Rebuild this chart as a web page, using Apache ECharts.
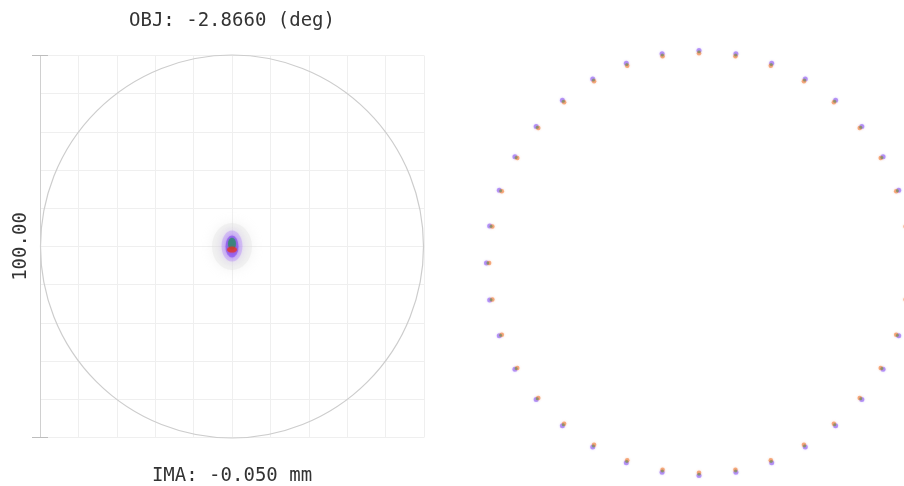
<!DOCTYPE html>
<html><head><meta charset="utf-8">
<script src="https://cdn.jsdelivr.net/npm/echarts@6/dist/echarts.min.js"></script>
<style>html,body{margin:0;padding:0;background:#fff}#c{width:904px;height:486px}</style>
</head><body><div id="c"></div>
<script>
// ---- texts ----
const fieldLabel = 'OBJ: -2.8660 (deg)';
const imageLabel = 'IMA: -0.050 mm';
const scaleLabel = '100.00';

// ---- left spot diagram (µm) ----
const boxMin = -50;
const boxMax = 50;
const gridStep = 10;
const scaleStep = 100;
const airyRadius = 50;

// blurred spot blobs per wavelength, [x, y] in µm
const haloSpot = [[0, 0]];
const violetSpot = [[0, 0.1]];
const violetCore = [[0, 0]];
const greenSpot = [[0, 0.7]];
const redSpot = [[0, -0.8]];

// ---- right ring of spots (polar: angle in deg, radius in µm) ----
const ringAngles = [0, 10, 20, 30, 40, 50, 60, 70, 80, 90, 100, 110, 120, 130, 140, 150, 160, 170,
                    180, 190, 200, 210, 220, 230, 240, 250, 260, 270, 280, 290, 300, 310, 320, 330, 340, 350];
const ringRadiusViolet = 55.35;
const ringRadiusGreen = 55.0;
const ringRadiusOrange = 54.65;
const ringMax = 60;

const FONT = 'DejaVu Sans Mono';
const nameStyle = { fontFamily: FONT, fontSize: 19, color: '#333' };

const hiddenAxisParts = {
  axisLine: { show: false, onZero: false }, axisTick: { show: false }, axisLabel: { show: false }, splitLine: { show: false }
};

const chart = echarts.init(document.getElementById('c'), null, { renderer: 'canvas' });

function ring(r) { return ringAngles.map(a => [r, a]); }

chart.setOption({
  animation: false,
  backgroundColor: '#fff',
  grid: [{ left: 40, top: 55.5, width: 384, height: 382, containLabel: false, outerBoundsMode: 'none' }],
  xAxis: [
    { gridIndex: 0, type: 'value', min: boxMin, max: boxMax, interval: gridStep, position: 'bottom',
      axisLine: { show: false, onZero: false }, axisTick: { show: false }, axisLabel: { show: false },
      splitLine: { show: true, lineStyle: { color: '#efefef', width: 1 } },
      name: imageLabel, nameLocation: 'middle', nameGap: 29, nameTextStyle: nameStyle },
    { gridIndex: 0, type: 'value', min: boxMin, max: boxMax, interval: gridStep, position: 'top',
      ...hiddenAxisParts,
      name: fieldLabel, nameLocation: 'middle', nameGap: 25, nameTextStyle: nameStyle }
  ],
  yAxis: [
    { gridIndex: 0, type: 'value', min: boxMin, max: boxMax, interval: gridStep, position: 'left',
      axisLine: { show: false, onZero: false }, axisTick: { show: false }, axisLabel: { show: false },
      splitLine: { show: true, lineStyle: { color: '#efefef', width: 1 } } },
    { gridIndex: 0, type: 'value', min: boxMin, max: boxMax, interval: scaleStep, position: 'left',
      axisLine: { show: true, onZero: false, lineStyle: { color: '#d0d0d0', width: 1 } },
      axisTick: { show: true, length: 8, lineStyle: { color: '#bdbdbd', width: 1 } },
      axisLabel: { show: false }, splitLine: { show: false },
      name: scaleLabel, nameLocation: 'middle', nameRotate: 90, nameGap: 9, nameTextStyle: nameStyle },
    { gridIndex: 0, type: 'value', min: boxMin, max: boxMax, interval: scaleStep, position: 'left',
      axisLine: { show: false, onZero: false },
      axisTick: { show: true, inside: true, length: 8, lineStyle: { color: '#bdbdbd', width: 1 } },
      axisLabel: { show: false }, splitLine: { show: false } }
  ],
  polar: [
    { center: [232, 246.5], radius: 191.5 },
    { center: [699, 263], radius: 230.4 }
  ],
  angleAxis: [
    { polarIndex: 0, type: 'value', min: 0, max: 360, startAngle: 90,
      axisLine: { show: true, lineStyle: { color: '#cdcdcd', width: 1.2 } },
      axisTick: { show: false }, axisLabel: { show: false }, splitLine: { show: false } },
    { polarIndex: 1, type: 'value', min: 0, max: 360, startAngle: 90, ...hiddenAxisParts }
  ],
  radiusAxis: [
    { polarIndex: 0, type: 'value', min: 0, max: airyRadius, ...hiddenAxisParts },
    { polarIndex: 1, type: 'value', min: 0, max: ringMax, ...hiddenAxisParts }
  ],
  series: [
    { type: 'scatter', xAxisIndex: 0, yAxisIndex: 0, data: haloSpot, symbolSize: [40, 47], silent: true,
      itemStyle: { color: 'rgba(228,228,228,0.5)', shadowBlur: 12, shadowColor: 'rgba(205,205,205,0.6)' } },
    { type: 'scatter', xAxisIndex: 0, yAxisIndex: 0, data: violetSpot, symbolSize: [21, 31], silent: true,
      itemStyle: { color: 'rgba(180,135,250,0.5)', shadowBlur: 6, shadowColor: 'rgba(170,120,250,0.6)' } },
    { type: 'scatter', xAxisIndex: 0, yAxisIndex: 0, data: violetCore, symbolSize: [13, 22], silent: true,
      itemStyle: { color: 'rgba(130,70,240,0.72)', shadowBlur: 3, shadowColor: 'rgba(125,65,235,0.6)' } },
    { type: 'scatter', xAxisIndex: 0, yAxisIndex: 0, data: greenSpot, symbolSize: [8, 12], silent: true,
      itemStyle: { color: 'rgba(40,140,100,0.85)', shadowBlur: 2, shadowColor: 'rgba(40,140,100,0.6)' } },
    { type: 'scatter', xAxisIndex: 0, yAxisIndex: 0, data: redSpot, symbolSize: [10, 6], silent: true,
      itemStyle: { color: 'rgba(230,50,30,0.85)', shadowBlur: 2, shadowColor: 'rgba(230,50,30,0.6)' } },

    { type: 'scatter', coordinateSystem: 'polar', polarIndex: 1, data: ring(ringRadiusViolet), symbolSize: 5, silent: true,
      itemStyle: { color: 'rgba(145,95,245,0.7)', shadowBlur: 2, shadowColor: 'rgba(140,90,245,0.6)' } },
    { type: 'scatter', coordinateSystem: 'polar', polarIndex: 1, data: ring(ringRadiusOrange), symbolSize: 4.5, silent: true,
      itemStyle: { color: 'rgba(240,125,55,0.7)', shadowBlur: 2, shadowColor: 'rgba(240,120,50,0.6)' } },
    { type: 'scatter', coordinateSystem: 'polar', polarIndex: 1, data: ring(ringRadiusGreen), symbolSize: 3, silent: true,
      itemStyle: { color: 'rgba(70,155,95,0.65)' } }
  ]
});
</script>
</body></html>
